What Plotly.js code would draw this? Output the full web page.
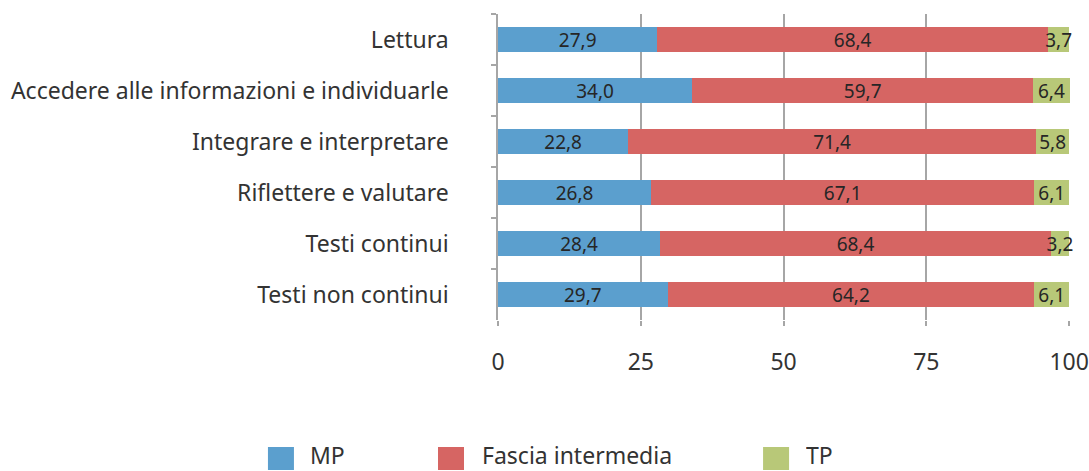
<!DOCTYPE html>
<html>
<head>
<meta charset="utf-8">
<script src="https://cdn.plot.ly/plotly-3.0.1.min.js"></script>
<style>html,body{margin:0;padding:0;background:#fff;}#chart{width:1089px;height:471px;}</style>
</head>
<body>
<div id="chart"></div>
<script>
const categories = ["Lettura", "Accedere alle informazioni e individuarle", "Integrare e interpretare", "Riflettere e valutare", "Testi continui", "Testi non continui"];
const seriesNames = ["MP", "Fascia intermedia", "TP"];
const mpValues = [27.9, 34.0, 22.8, 26.8, 28.4, 29.7];
const fasciaValues = [68.4, 59.7, 71.4, 67.1, 68.4, 64.2];
const tpValues = [3.7, 6.4, 5.8, 6.1, 3.2, 6.1];
const xTicks = [0, 25, 50, 75, 100];

const colors = ["#5B9FCE", "#D66563", "#B8C878"];
const FONT = "Noto Sans, Open Sans, sans-serif";
const W = 1089, H = 471;
const X0PX = 498, X100PX = 1069;
const XMAX = 100.15;
const pxPerUnit = (X100PX - X0PX) / 100;
const M = {l: X0PX, r: W - (X0PX + XMAX * pxPerUnit), t: 14, b: 151};
const pw = W - M.l - M.r, ph = H - M.t - M.b;
const px2x = p => (p - M.l) / pw;
const py2y = p => (H - M.b - p) / ph;

const allValues = [mpValues, fasciaValues, tpValues];
const traces = allValues.map((vals, i) => ({
  type: "bar",
  orientation: "h",
  name: seriesNames[i],
  y: categories,
  x: vals,
  marker: {color: colors[i], line: {width: 0}},
  text: vals.map(v => v.toFixed(1).replace(".", ",")),
  textposition: "inside",
  insidetextanchor: "middle",
  textangle: 0,
  constraintext: "none",
  cliponaxis: false,
  textfont: {family: FONT, size: 19, color: "#262626"},
  hoverinfo: "x+y+name",
  showlegend: false
}));

// legend drawn with shapes + annotations
const legendSquares = [268, 438, 763];
const legendTextX = [309, 481, 805];
const legendSqTop = 447, legendSqBottom = 470, legendSqW = 26;
const legendCY = 455;
const shapes = seriesNames.map((n, i) => ({
  type: "rect", xref: "paper", yref: "paper",
  x0: px2x(legendSquares[i]), x1: px2x(legendSquares[i] + legendSqW),
  y0: py2y(legendSqBottom), y1: py2y(legendSqTop),
  fillcolor: colors[i], line: {width: 0}
}));
const annotations = seriesNames.map((n, i) => ({
  xref: "paper", yref: "paper",
  x: px2x(legendTextX[i]), y: py2y(legendCY),
  xanchor: "left", yanchor: "middle",
  height: 24, valign: "middle", borderpad: 0,
  text: n, showarrow: false,
  font: {family: FONT, size: 23, color: "#333333"}
}));

const layout = {
  width: W, height: H,
  margin: M,
  paper_bgcolor: "#ffffff",
  plot_bgcolor: "#ffffff",
  barmode: "stack",
  bargap: 0.51,
  separators: ", ",
  showlegend: false,
  font: {family: FONT, size: 23, color: "#333333"},
  xaxis: {
    range: [0, XMAX],
    tickvals: xTicks,
    ticktext: xTicks.map(String),
    showgrid: true,
    gridcolor: "#A6A6A6",
    gridwidth: 1.5,
    zeroline: false,
    showline: false,
    ticks: "outside",
    ticklen: 5,
    tickcolor: "#A6A6A6",
    tickwidth: 1.5,
    ticklabelstandoff: 16,
    tickfont: {family: FONT, size: 23, color: "#333333"},
    fixedrange: true
  },
  yaxis: {
    type: "category",
    autorange: "reversed",
    showline: true,
    linecolor: "#A6A6A6",
    linewidth: 1.5,
    ticks: "outside",
    tickson: "boundaries",
    ticklen: 5,
    tickcolor: "#A6A6A6",
    tickwidth: 1.5,
    ticklabelstandoff: 43,
    showgrid: false,
    zeroline: false,
    tickfont: {family: FONT, size: 23, color: "#333333"},
    fixedrange: true
  },
  shapes: shapes,
  annotations: annotations
};

Plotly.newPlot("chart", traces, layout, {displayModeBar: false});
</script>
</body>
</html>
